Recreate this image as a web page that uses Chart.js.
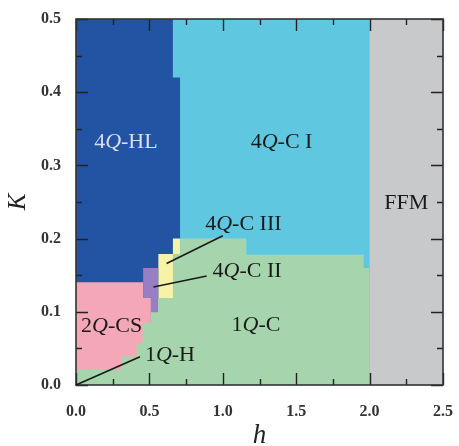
<!DOCTYPE html>
<html>
<head>
<meta charset="utf-8">
<script src="https://cdn.jsdelivr.net/npm/chart.js@4.4.1/dist/chart.umd.min.js"></script>
<style>
html,body{margin:0;padding:0;background:#fff;}
canvas{display:block;}
</style>
</head>
<body>
<canvas id="c" width="459" height="446"></canvas>
<script>
// Phase boundaries: h break points and K level of the upper edge on each interval
const ffmH = [2.0, 2.5];
const ffmK = [0.5];
const c1H = [0, 2.0];
const c1K = [0.5];
const hlH = [0, 0.66, 0.71];
const hlK = [0.5, 0.42];
const c3H = [0.56, 0.66, 0.71];
const c3K = [0.179, 0.2];
const c2H = [0.457, 0.56];
const c2K = [0.16];
const csH = [0, 0.457, 0.51];
const csK = [0.1405, 0.119];
const q1H = [0, 0.311, 0.413, 0.454, 0.51, 0.56, 0.66, 0.71, 1.16, 1.96, 2.0];
const q1K = [0.0205, 0.039, 0.057, 0.085, 0.0995, 0.119, 0.179, 0.2, 0.178, 0.16];

// Axis ranges and ticks
const hRange = [0, 2.5];
const kRange = [0, 0.5];
const hMajor = 0.5, hMinor = 0.25;
const kMajor = 0.1, kMinor = 0.05;

// Region names
const regionNames = ['FFM', '4Q-C I', '4Q-HL', '4Q-C III', '4Q-C II', '2Q-CS', '1Q-C'];

function steps(hs, ks) {
  const pts = [];
  for (let i = 0; i < ks.length; i++) {
    pts.push({x: hs[i], y: ks[i]});
    pts.push({x: hs[i + 1], y: ks[i]});
  }
  return pts;
}

const colors = {
  ffm: '#c8c9cb', c1: '#5fc8e0', hl: '#2354a3', c3: '#f6f2a6',
  c2: '#987fc3', cs: '#f4a7b7', q1: '#a6d5ad'
};

function region(label, hs, ks, color) {
  return {
    label, data: steps(hs, ks), showLine: true, fill: 'origin',
    backgroundColor: color, borderColor: color, borderWidth: 0,
    pointRadius: 0, tension: 0
  };
}

// dataset 0 is drawn on top
const datasets = [
  region(regionNames[6], q1H, q1K, colors.q1),
  region(regionNames[5], csH, csK, colors.cs),
  region(regionNames[4], c2H, c2K, colors.c2),
  region(regionNames[3], c3H, c3K, colors.c3),
  region(regionNames[2], hlH, hlK, colors.hl),
  region(regionNames[1], c1H, c1K, colors.c1),
  region(regionNames[0], ffmH, ffmK, colors.ffm)
];

// Annotations (label anchors in data units)
const annotations = [
  {parts: ['4', 'Q', '-HL'], h: 0.34, k: 0.331, color: '#dcdcf4'},
  {parts: ['4', 'Q', '-C I'], h: 1.40, k: 0.331, color: '#1a1a1a'},
  {parts: ['FFM'], h: 2.25, k: 0.249, color: '#1a1a1a'},
  {parts: ['4', 'Q', '-C III'], h: 1.14, k: 0.219, color: '#1a1a1a'},
  {parts: ['4', 'Q', '-C II'], h: 1.165, k: 0.155, color: '#1a1a1a'},
  {parts: ['2', 'Q', '-CS'], h: 0.243, k: 0.080, color: '#1a1a1a'},
  {parts: ['1', 'Q', '-C'], h: 1.226, k: 0.082, color: '#1a1a1a'},
  {parts: ['1', 'Q', '-H'], h: 0.64, k: 0.041, color: '#1a1a1a'}
];
const leaders = [
  [[1.0, 0.204], [0.617, 0.166]],
  [[0.89, 0.149], [0.527, 0.134]],
  [[0.0, 0.0], [0.436, 0.0387]]
];

const FAMILY = '"Liberation Serif", "DejaVu Serif", serif';

const decor = {
  id: 'decor',
  beforeDatasetsDraw(chart) {
    const a = chart.chartArea, ctx = chart.ctx;
    ctx.save();
    ctx.fillStyle = '#90c8d4';
    ctx.fillRect(a.left, a.top, a.right - a.left, a.bottom - a.top);
    ctx.restore();
  },
  afterDatasetsDraw(chart) {
    const ctx = chart.ctx;
    const xs = chart.scales.x, ys = chart.scales.y;
    const a = chart.chartArea;
    ctx.save();
    // inward ticks on all four sides
    ctx.strokeStyle = '#222';
    ctx.lineWidth = 1.4;
    const eps = 1e-9;
    for (let v = hRange[0]; v <= hRange[1] + eps; v += hMinor) {
      const major = Math.abs(v / hMajor - Math.round(v / hMajor)) < 1e-6;
      const len = major ? 12 : 6;
      const px = Math.round(xs.getPixelForValue(v)) + 0.5;
      ctx.beginPath();
      ctx.moveTo(px, a.bottom); ctx.lineTo(px, a.bottom - len);
      ctx.moveTo(px, a.top); ctx.lineTo(px, a.top + len);
      ctx.stroke();
    }
    for (let v = kRange[0]; v <= kRange[1] + eps; v += kMinor) {
      const major = Math.abs(v / kMajor - Math.round(v / kMajor)) < 1e-6;
      const len = major ? 12 : 6;
      const py = Math.round(ys.getPixelForValue(v)) + 0.5;
      ctx.beginPath();
      ctx.moveTo(a.left, py); ctx.lineTo(a.left + len, py);
      ctx.moveTo(a.right, py); ctx.lineTo(a.right - len, py);
      ctx.stroke();
    }
    // frame
    ctx.lineWidth = 1.6;
    ctx.strokeStyle = '#333';
    ctx.strokeRect(a.left, a.top, a.right - a.left, a.bottom - a.top);

    // leader lines
    ctx.lineWidth = 1.6;
    ctx.strokeStyle = '#1a1a1a';
    for (const [p, q] of leaders) {
      ctx.beginPath();
      ctx.moveTo(xs.getPixelForValue(p[0]), ys.getPixelForValue(p[1]));
      ctx.lineTo(xs.getPixelForValue(q[0]), ys.getPixelForValue(q[1]));
      ctx.stroke();
    }
    // region labels
    ctx.textBaseline = 'middle';
    ctx.textAlign = 'left';
    const size = 22;
    for (const an of annotations) {
      const fonts = an.parts.map((p, i) => (an.parts.length > 1 && i === 1 ? 'italic ' : '') + size + 'px ' + FAMILY);
      let w = 0;
      const ws = an.parts.map((p, i) => { ctx.font = fonts[i]; const m = ctx.measureText(p).width; w += m; return m; });
      let x = xs.getPixelForValue(an.h) - w / 2;
      const y = ys.getPixelForValue(an.k);
      ctx.fillStyle = an.color;
      an.parts.forEach((p, i) => { ctx.font = fonts[i]; ctx.fillText(p, x, y); x += ws[i]; });
    }
    ctx.restore();
  }
};

function noPad(s) {
  s.paddingLeft = 0; s.paddingRight = 0; s.paddingTop = 0; s.paddingBottom = 0;
}

new Chart(document.getElementById('c'), {
  type: 'scatter',
  data: {datasets},
  options: {
    responsive: false,
    animation: false,
    events: [],
    layout: {padding: {left: 0, right: 16, top: 19, bottom: 0}},
    plugins: {legend: {display: false}, tooltip: {enabled: false}},
    scales: {
      x: {
        type: 'linear', min: hRange[0], max: hRange[1],
        grid: {display: false, drawTicks: false, tickLength: 0},
        border: {display: false},
        ticks: {stepSize: hMajor, callback: v => v.toFixed(1), padding: 17, maxRotation: 0,
          color: '#333', font: {family: FAMILY, size: 16, weight: 'bold'}},
        title: {display: true, text: 'h', color: '#222', padding: 0,
          font: {family: FAMILY, size: 27, style: 'italic', lineHeight: '20px'}},
        afterFit: s => { s.height = 61; noPad(s); }
      },
      y: {
        type: 'linear', min: kRange[0], max: kRange[1],
        grid: {display: false, drawTicks: false, tickLength: 0},
        border: {display: false},
        ticks: {stepSize: kMajor, callback: v => v.toFixed(1), padding: 15,
          color: '#333', font: {family: FAMILY, size: 16, weight: 'bold'}},
        title: {display: true, text: 'K', color: '#222', padding: 0,
          font: {family: FAMILY, size: 25, style: 'italic', lineHeight: '37px'}},
        afterFit: s => { s.width = 76; noPad(s); }
      }
    }
  },
  plugins: [decor]
});
</script>
</body>
</html>
